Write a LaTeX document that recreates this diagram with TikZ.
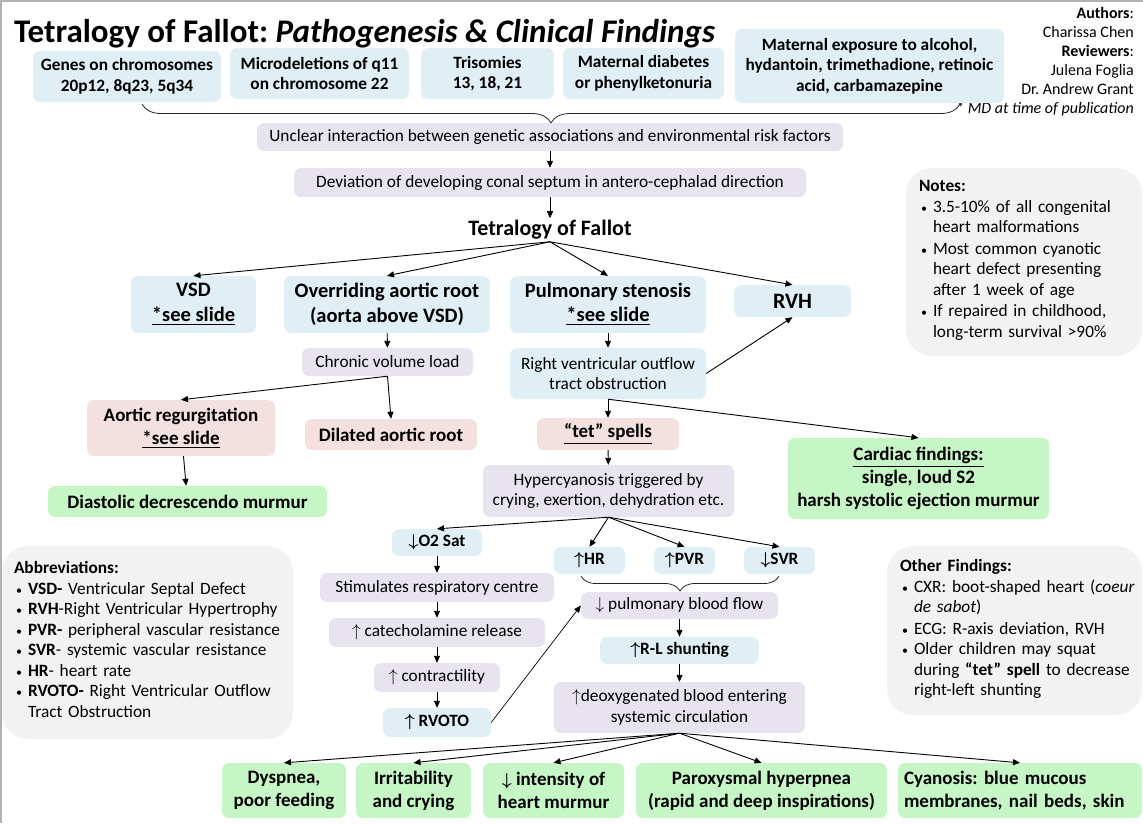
\documentclass[tikz,border=0pt]{standalone}
\usepackage{amsmath}
\usepackage{fontspec}
\setmainfont{Carlito}
\usetikzlibrary{arrows.meta,decorations.pathreplacing}

\definecolor{boxblue}{HTML}{DFEFF5}
\definecolor{boxlav}{HTML}{E7E4EF}
\definecolor{boxpink}{HTML}{F4E1DF}
\definecolor{boxgreen}{HTML}{C6F6C6}
\definecolor{notegray}{HTML}{F2F2F2}

\newcommand\arrup{$\uparrow$}
\newcommand\arrdn{$\downarrow$}
\newcommand\noteitem[1]{\makebox[14pt][l]{\hspace{2pt}{\fontsize{12}{12}\selectfont\textbullet}}\begin{tabular}[t]{@{}l@{}}#1\end{tabular}}

\begin{document}
\frenchspacing
\begin{tikzpicture}[x=1pt, y=-1pt,
	box/.style={rounded corners=7pt, inner sep=0pt, align=center},
	bluebox/.style={box, fill=boxblue},
	lavbox/.style={box, fill=boxlav},
	pinkbox/.style={box, fill=boxpink},
	greenbox/.style={box, fill=boxgreen},
	notebox/.style={rounded corners=26pt, inner sep=0pt, fill=notegray, align=left},
	txtreg/.style={font=\fontsize{17.3}{20.5}\selectfont},
	txtsmall/.style={font=\bfseries\boldmath\fontsize{17.3}{20.5}\selectfont},
	txtmid/.style={font=\bfseries\boldmath\fontsize{19}{23}\selectfont},
	txtbig/.style={font=\bfseries\boldmath\fontsize{20.5}{24.5}\selectfont},
	txthuge/.style={font=\bfseries\boldmath\fontsize{22}{26}\selectfont},
	flow/.style={-{Triangle[length=7pt,width=6pt]}, line width=0.9pt},
	curly/.style={decorate, line width=0.8pt, black!85}]

	% ---- frame

	\useasboundingbox (0,0) rectangle (1143,823);
	\draw[black!30, line width=1.5pt] (0.75,823) -- (0.75,0.75) -- (1143,0.75);

	% ---- title and authors

	\node[anchor=base west, inner sep=0pt, font=\bfseries\fontsize{33}{38}\selectfont] (title) at (14,42)
		{Tetralogy of Fallot: \textit{Pathogenesis \& Clinical Findings}};

	\node[anchor=north east, inner sep=0pt, align=right, font=\fontsize{16}{19}\selectfont] (authors) at (1134,7)
		{\textbf{Authors}:\\Charissa Chen\\\textbf{Reviewers}:\\Julena Foglia\\Dr. Andrew Grant\\\textit{* MD at time of publication}};

	% ---- risk factors

	\node[bluebox, txtsmall, minimum width=188pt, minimum height=51pt] (genes) at (127,76.5) {Genes on chromosomes\\20p12, 8q23, 5q34};
	\node[bluebox, txtsmall, minimum width=179pt, minimum height=51pt] (micro) at (319.5,73.5) {Microdeletions of q11\\on chromosome 22};
	\node[bluebox, txtsmall, minimum width=133pt, minimum height=51pt] (tris) at (487.5,73.5) {Trisomies\\13, 18, 21};
	\node[bluebox, txtsmall, minimum width=161pt, minimum height=51pt] (diab) at (643.5,73.5) {Maternal diabetes\\or phenylketonuria};
	\node[bluebox, txtsmall, minimum width=269pt, minimum height=74pt] (expo) at (869.5,66) {Maternal exposure to alcohol,\\hydantoin, trimethadione, retinoic\\acid, carbamazepine};

	\coordinate (braceL) at (142,104);
	\coordinate (braceR) at (960,104);
	\draw[curly, decoration={brace, mirror, amplitude=19pt}] (braceL) -- (braceR);

	% ---- pathogenesis

	\node[lavbox, txtreg, minimum width=586pt, minimum height=28pt] (unclear) at (550,137) {Unclear interaction between genetic associations and environmental risk factors};
	\node[lavbox, txtreg, minimum width=512pt, minimum height=29pt] (dev) at (550,182.5) {Deviation of developing conal septum in antero-cephalad direction};
	\node[inner sep=2pt, txthuge] (tof) at (550,230) {Tetralogy of Fallot};

	% ---- the four features

	\node[bluebox, txtbig, minimum width=125pt, minimum height=57pt] (vsd) at (193.5,304.5) {VSD\\\underline{*see slide}};
	\node[bluebox, txtbig, minimum width=206pt, minimum height=57pt] (over) at (387,304.5) {Overriding aortic root\\(aorta above VSD)};
	\node[bluebox, txtbig, minimum width=196pt, minimum height=57pt] (pulm) at (608,304.5) {Pulmonary stenosis\\\underline{*see slide}};
	\node[bluebox, txthuge, minimum width=117pt, minimum height=32pt] (rvh) at (792.5,301) {RVH};

	% ---- aortic branch

	\node[lavbox, txtreg, minimum width=171pt, minimum height=28pt] (chronic) at (387.5,362) {Chronic volume load};
	\node[pinkbox, txtmid, minimum width=188pt, minimum height=56pt] (aortreg) at (181,428) {Aortic regurgitation\\\underline{*see slide}};
	\node[pinkbox, txtmid, minimum width=172pt, minimum height=31pt] (dilated) at (391,434.5) {Dilated aortic root};
	\node[greenbox, txtmid, minimum width=279pt, minimum height=31pt] (diast) at (187.5,501.5) {Diastolic decrescendo murmur};

	% ---- pulmonary branch

	\node[bluebox, txtreg, minimum width=196pt, minimum height=51pt] (rvot) at (608,373.5) {Right ventricular outflow\\tract obstruction};
	\node[pinkbox, txtmid, minimum width=142pt, minimum height=32pt] (tet) at (608,434) {\underline{“tet” spells}};
	\node[greenbox, txtmid, minimum width=261pt, minimum height=81pt] (cardiac) at (918.5,478.5) {\underline{Cardiac findings:}\\single, loud S2\\harsh systolic ejection murmur};
	\node[lavbox, txtreg, minimum width=251pt, minimum height=52pt] (hyper) at (608.5,491) {Hypercyanosis triggered by\\crying, exertion, dehydration etc.};

	% ---- tet spell cascade

	\node[bluebox, txtsmall, minimum width=90pt, minimum height=27pt] (o2) at (437,542.5) {\arrdn O2 Sat};
	\node[bluebox, txtsmall, minimum width=71pt, minimum height=27pt] (hr) at (589.5,560.5) {\arrup HR};
	\node[bluebox, txtsmall, minimum width=61pt, minimum height=27pt] (pvr) at (684.5,560.5) {\arrup PVR};
	\node[bluebox, txtsmall, minimum width=71pt, minimum height=27pt] (svr) at (779.5,560.5) {\arrdn SVR};

	\node[lavbox, txtreg, minimum width=234pt, minimum height=29pt] (stim) at (437,587.5) {Stimulates respiratory centre};
	\node[lavbox, txtreg, minimum width=216pt, minimum height=29pt] (cat) at (437,632.5) {\arrup{} catecholamine release};
	\node[lavbox, txtreg, minimum width=126pt, minimum height=29pt] (contr) at (437,677.5) {\arrup{} contractility};
	\node[bluebox, txtsmall, minimum width=108pt, minimum height=29pt] (rvoto) at (437,722.5) {\arrup{} RVOTO};

	\node[lavbox, txtreg, minimum width=197pt, minimum height=27pt] (pbf) at (679.5,605.5) {\arrdn{} pulmonary blood flow};
	\node[bluebox, txtsmall, minimum width=159pt, minimum height=27pt] (rl) at (679.5,650.5) {\arrup R-L shunting};
	\node[lavbox, txtreg, minimum width=251pt, minimum height=51pt] (deoxy) at (679.5,707.5) {\arrup deoxygenated blood entering\\systemic circulation};

	\coordinate (hrL) at (581,576);
	\coordinate (svrR) at (779,576);
	\draw[curly, decoration={brace, mirror, amplitude=15pt}] (hrL) -- (svrR);

	% ---- clinical findings

	\node[greenbox, txtmid, minimum width=124pt, minimum height=55pt] (dysp) at (284,790.5) {Dyspnea,\\poor feeding};
	\node[greenbox, txtmid, minimum width=115pt, minimum height=55pt] (irr) at (413.5,790.5) {Irritability\\and crying};
	\node[greenbox, txtmid, minimum width=141pt, minimum height=55pt] (intens) at (553.5,790.5) {\arrdn{} intensity of\\heart murmur};
	\node[greenbox, txtmid, minimum width=251pt, minimum height=55pt] (parox) at (761.5,790.5) {Paroxysmal hyperpnea\\(rapid and deep inspirations)};
	\node[greenbox, txtmid, minimum width=244pt, minimum height=55pt, text width=232pt, align=left] (cyan) at (1020,790.5) {Cyanosis: blue mucous\\membranes, nail beds, skin};

	% ---- side notes

	\node[notebox, txtreg, minimum width=236pt, minimum height=188pt, text width=210pt] (notes) at (1024,262)
		{\textbf{Notes:}\\
		\noteitem{3.5-10\% of all congenital\\heart malformations}\\
		\noteitem{Most common cyanotic\\heart defect presenting\\after 1 week of age}\\
		\noteitem{If repaired in childhood,\\long-term survival >90\%}};

	\node[notebox, txtreg, minimum width=291pt, minimum height=193pt, text width=267pt] (abbr) at (147.5,642.5)
		{\textbf{Abbreviations:}\\
		\noteitem{\textbf{VSD-} Ventricular Septal Defect}\\
		\noteitem{\textbf{RVH}-Right Ventricular Hypertrophy}\\
		\noteitem{\textbf{PVR-} peripheral vascular resistance}\\
		\noteitem{\textbf{SVR}- systemic vascular resistance}\\
		\noteitem{\textbf{HR}- heart rate}\\
		\noteitem{\textbf{RVOTO-} Right Ventricular Outflow\\Tract Obstruction}};

	\node[notebox, txtreg, minimum width=255pt, minimum height=169pt, text width=229pt] (other) at (1014.5,630.5)
		{\textbf{Other Findings:}\\
		\noteitem{CXR: boot-shaped heart (\textit{coeur}\\\textit{de sabot})}\\
		\noteitem{ECG: R-axis deviation, RVH}\\
		\noteitem{Older children may squat\\during \textbf{“tet” spell} to decrease\\right-left shunting}};

	% ---- arrows

	\draw[flow] (unclear) -- (dev);
	\draw[flow] (dev) -- (tof);
	\foreach \n in {vsd,over,pulm,rvh} { \draw[flow] (tof.south) -- (\n.north); }

	\draw[flow] (over) -- (chronic);
	\draw[flow] (chronic.south) -- (aortreg.north);
	\draw[flow] (chronic.south) -- (dilated.north);
	\draw[flow] (aortreg) -- (diast);

	\draw[flow] (pulm) -- (rvot);
	\draw[flow] (rvot.east) -- (rvh.south);
	\draw[flow] (rvot.south) -- (tet.north);
	\draw[flow] (rvot.south) -- (cardiac.north);
	\draw[flow] (tet) -- (hyper);

	\foreach \n in {o2,hr,pvr,svr} { \draw[flow] (hyper.south) -- (\n.north); }

	\draw[flow] (o2) -- (stim);
	\draw[flow] (stim) -- (cat);
	\draw[flow] (cat) -- (contr);
	\draw[flow] (contr) -- (rvoto);
	\draw[flow, line width=0.7pt] (rvoto.east) -- (pbf.west);

	\draw[flow] (pbf) -- (rl);
	\draw[flow] (rl) -- (deoxy);

	\foreach \n in {dysp,irr,intens,parox,cyan} { \draw[flow] (deoxy.south) -- (\n.north); }

\end{tikzpicture}
\end{document}
